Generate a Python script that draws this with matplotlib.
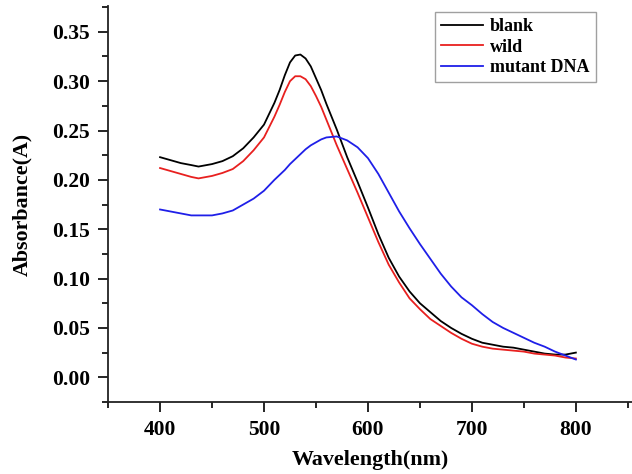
import matplotlib
matplotlib.use("Agg")
import matplotlib.pyplot as plt
from matplotlib.ticker import MultipleLocator

wavelength = [400, 410, 420, 430, 437, 450, 460, 470, 480, 490, 500, 510, 515, 520, 525,
              530, 535, 540, 545, 550, 555, 560, 570, 580, 590, 600, 610, 620, 630, 640, 650,
              660, 670, 680, 690, 700, 710, 720, 730, 740, 750, 760, 770, 780, 790, 800]

blank = [0.223, 0.220, 0.217, 0.215, 0.2135, 0.216, 0.219, 0.224, 0.232, 0.243, 0.256,
         0.278, 0.291, 0.306, 0.319, 0.326, 0.327, 0.323, 0.315, 0.303, 0.291, 0.277,
         0.251, 0.223, 0.198, 0.172, 0.145, 0.121, 0.102, 0.087, 0.075, 0.066, 0.057,
         0.050, 0.044, 0.039, 0.035, 0.033, 0.031, 0.030, 0.028, 0.026, 0.024, 0.023,
         0.023, 0.025]

wild = [0.212, 0.209, 0.206, 0.203, 0.2015, 0.204, 0.207, 0.211, 0.219, 0.230, 0.243,
        0.264, 0.276, 0.289, 0.300, 0.305, 0.305, 0.302, 0.295, 0.285, 0.274, 0.261,
        0.235, 0.211, 0.187, 0.162, 0.137, 0.114, 0.096, 0.080, 0.069, 0.059, 0.052,
        0.045, 0.039, 0.034, 0.031, 0.029, 0.028, 0.027, 0.026, 0.024, 0.023, 0.022,
        0.020, 0.019]

mutant = [0.170, 0.168, 0.166, 0.164, 0.164, 0.164, 0.166, 0.169, 0.175, 0.181, 0.189,
          0.200, 0.205, 0.210, 0.216, 0.221, 0.226, 0.231, 0.235, 0.238, 0.241, 0.243,
          0.244, 0.240, 0.233, 0.222, 0.206, 0.187, 0.168, 0.151, 0.135, 0.120, 0.105,
          0.092, 0.081, 0.073, 0.064, 0.056, 0.050, 0.045, 0.040, 0.035, 0.031, 0.026,
          0.022, 0.018]

series_names = ["blank", "wild", "mutant DNA"]
series_colors = ["#000000", "#e8201f", "#1f1fe8"]

plt.rcParams['font.family'] = ['Liberation Serif', 'DejaVu Serif']
plt.rcParams['font.weight'] = 'bold'

fig = plt.figure(figsize=(6.32, 4.74), dpi=100)
ax = fig.add_axes([0.171, 0.152, 0.829, 0.835])

for vals, name, col in zip([blank, wild, mutant], series_names, series_colors):
    ax.plot(wavelength, vals, color=col, lw=1.3, label=name, solid_joinstyle='round')

ax.set_xlim(350, 854)
ax.set_ylim(-0.025, 0.376)
ax.xaxis.set_minor_locator(MultipleLocator(50))
ax.yaxis.set_minor_locator(MultipleLocator(0.025))
xt = [400, 500, 600, 700, 800]
yt = [0.0, 0.05, 0.10, 0.15, 0.20, 0.25, 0.30, 0.35]
ax.set_xticks(xt)
ax.set_yticks(yt)
ax.set_yticklabels([f"{v:.2f}" for v in yt])

for s in ['top', 'right']:
    ax.spines[s].set_visible(False)
for s in ['left', 'bottom']:
    ax.spines[s].set_linewidth(1.3)
    ax.spines[s].set_color('#222222')

ax.tick_params(which='major', direction='out', length=7, width=1.2, labelsize=15.5, pad=6)
ax.tick_params(which='minor', direction='out', length=4, width=1.2)

ax.set_xlabel("Wavelength(nm)", fontsize=15.8, fontweight='bold', labelpad=7)
ax.set_ylabel("Absorbance(A)", fontsize=15.8, fontweight='bold', labelpad=14)

leg = ax.legend(loc='upper right', bbox_to_anchor=(0.948, 1.008), fontsize=13,
                frameon=True, fancybox=False, edgecolor='#888888', handlelength=2.3,
                borderpad=0.35, labelspacing=0.18, handletextpad=0.4)
leg.get_frame().set_linewidth(1.0)
for t in leg.get_texts():
    t.set_fontweight('bold')

fig.savefig("out.png", dpi=100)
